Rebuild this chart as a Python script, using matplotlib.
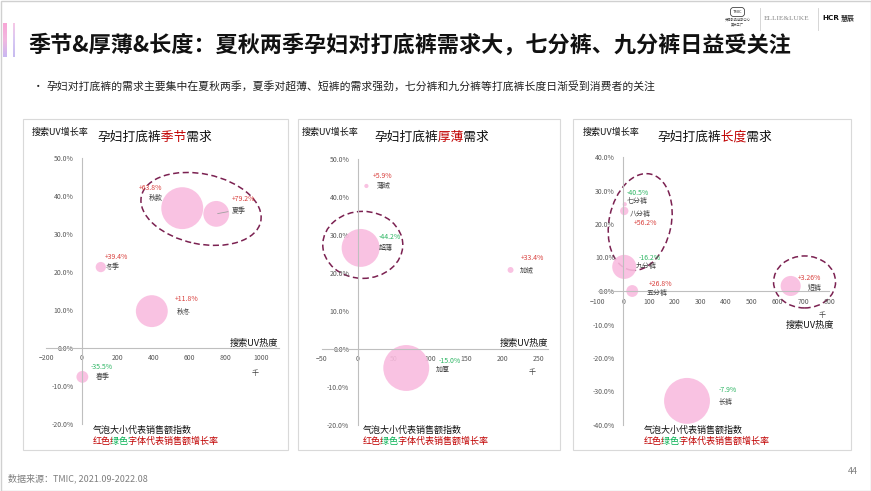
import numpy as np
import matplotlib
matplotlib.use('Agg')
import matplotlib.pyplot as plt
from matplotlib.patches import Ellipse, Rectangle, FancyBboxPatch
from matplotlib.transforms import ScaledTranslation, Bbox
from matplotlib.colors import LinearSegmentedColormap

plt.rcParams['font.family'] = ['Noto Sans CJK SC', 'DejaVu Sans']

# 季节: 搜索UV热度(千), 搜索UV增长率(%), 销售额指数(气泡), 销售额增长率(%)
season_names = ['秋款', '夏季', '冬季', '秋冬', '春季']
season_uv = [560, 750, 105, 390, 2]
season_uv_growth = [36.8, 35.3, 21.3, 9.7, -7.6]
season_sales = [100, 38, 6, 58, 8]
season_sales_growth = [63.8, 79.2, 39.4, 11.8, -35.5]

# 厚薄
thick_names = ['薄绒', '超薄', '加绒', '加厚']
thick_uv = [12, 4, 211, 67]
thick_uv_growth = [42.9, 26.6, 20.8, -5.0]
thick_sales = [1, 82, 2, 120]
thick_sales_growth = [5.9, -44.2, 33.4, -15.0]

# 长度
length_names = ['七分裤', '八分裤', '九分裤', '五分裤', '短裤', '长裤']
length_uv = [6, 4, 4, 35, 651, 248]
length_uv_growth = [25.9, 23.9, 7.2, 0.0, 1.5, -32.8]
length_sales = [1, 4, 33, 8, 23, 120]
length_sales_growth = [-40.5, 56.2, -16.2, 26.8, 3.26, -7.9]

W, H = 871, 491
RED = '#D9413E'
GREEN = '#2DB563'
DARKRED = '#C00000'
PINK = '#F9BCDF'
RING = '#7B2151'

fig = plt.figure(figsize=(W / 100, H / 100), dpi=100)
bg = fig.add_axes([0, 0, 1, 1])
bg.set_zorder(0)
bg.set_xlim(0, W)
bg.set_ylim(H, 0)
bg.axis('off')
renderer = fig.canvas.get_renderer()


def rect_px(x0, y0, x1, y1):
    return [x0 / W, 1 - y1 / H, (x1 - x0) / W, (y1 - y0) / H]


def fmt_growth(v):
    return f'{v:+.1f}%' if round(v, 1) == v else f'{v:+.2f}%'


def ring(ax, cx, cy, w, h, angle=0):
    tr = fig.dpi_scale_trans + ScaledTranslation(cx, cy, ax.transData)
    e = Ellipse((0, 0), w / 100, h / 100, angle=angle, transform=tr, fill=False,
                ec=RING, lw=1.1, ls=(0, (4, 2.3)))
    e.set_clip_on(False)
    ax.add_patch(e)


def draw_panel(rect, names, uv, uvg, sales, sg, g_off, n_off, xlim, ylim, xticks, yticks,
               xpad, leader=None):
    ax = fig.add_axes(rect)
    ax.set_facecolor('none')
    ax.scatter(uv, uvg, s=np.array(sales) * 9.1, color=PINK, alpha=0.9, lw=0, zorder=2, clip_on=False)
    for i, n in enumerate(names):
        c = RED if sg[i] > 0 else GREEN
        ax.annotate(fmt_growth(sg[i]), (uv[i], uvg[i]), xytext=(g_off[i][0], -g_off[i][1]),
                    textcoords='offset pixels', ha='left', va='center', fontsize=5, color=c, zorder=5)
        kw = {}
        if leader is not None and leader[i]:
            kw['arrowprops'] = dict(arrowstyle='-', color='#A0A0A0', lw=0.6, shrinkA=1, shrinkB=1,
                                    relpos=(0, 0.5))
        ax.annotate(n, (uv[i], uvg[i]), xytext=(n_off[i][0], -n_off[i][1]),
                    textcoords='offset pixels', ha='left', va='center', fontsize=5, color='#404040',
                    zorder=5, **kw)
    ax.set_xlim(*xlim)
    ax.set_ylim(*ylim)
    ax.set_xticks(xticks)
    ax.set_yticks(yticks)
    ax.set_yticklabels([f'{v:.1f}%' for v in yticks])
    for sp in ['top', 'right']:
        ax.spines[sp].set_visible(False)
    for sp in ['left', 'bottom']:
        ax.spines[sp].set_position(('data', 0))
        ax.spines[sp].set_color('#BFBFBF')
        ax.spines[sp].set_linewidth(0.8)
    ax.tick_params(length=0, labelsize=5, labelcolor='#595959')
    ax.tick_params(axis='x', pad=xpad)
    ax.tick_params(axis='y', pad=6)
    return ax


def seg_text(x, y, parts, size):
    # draw the whole string once per colour, each copy clipped to its own piece
    full = ''.join(s for s, _ in parts)
    bounds = [x - 10]
    prefix = ''
    for s, _ in parts[:-1]:
        prefix += s
        tmp = bg.text(x, y, prefix, fontsize=size, va='center', ha='left')
        bb = tmp.get_window_extent(renderer)
        tmp.remove()
        bounds.append(bg.transData.inverted().transform((bb.x1, bb.y0))[0] + 1)
    bounds.append(x + 1000)
    for (s, c), x0, x1 in zip(parts, bounds[:-1], bounds[1:]):
        t = bg.text(x, y, full, color=c, fontsize=size, va='center', ha='left')
        p0 = bg.transData.transform((x0, y - 20))
        p1 = bg.transData.transform((x1, y + 20))
        t.set_clip_box(Bbox.from_extents(min(p0[0], p1[0]), min(p0[1], p1[1]),
                                         max(p0[0], p1[0]), max(p0[1], p1[1])))
        t.set_clip_on(True)


# panel frames
for x0, x1 in [(23, 288), (298, 560), (573, 851)]:
    bg.add_patch(Rectangle((x0, 119), x1 - x0, 331, fill=False, ec='#D9D9D9', lw=0.8))
bg.add_patch(Rectangle((0.5, 0.5), W - 1, H - 1, fill=False, ec='#D0D0D0', lw=1))

ax1 = draw_panel(rect_px(46.2, 158, 278.9, 424), season_names, season_uv, season_uv_growth,
                 season_sales, season_sales_growth,
                 [(-43, -20), (16, -15), (4, -10), (23, -12), (8, -10)],
                 [(-33, -10), (16, -3), (5, 0), (25, 1), (13, 0)],
                 (-200, 1100), (-20, 50), range(-200, 1001, 200), range(-20, 51, 10), 4,
                 leader=[False, True, False, False, False])
ring(ax1, 665, 36.6, 122, 70, -12)

ax2 = draw_panel(rect_px(321.5, 159, 547.5, 425), thick_names, thick_uv, thick_uv_growth,
                 thick_sales, thick_sales_growth,
                 [(6, -10), (18, -11), (10, -12), (32, -7)],
                 [(10, 0), (18, 0), (9, 0), (30, 2)],
                 (-50, 262), (-20, 50), range(-50, 251, 50), range(-20, 51, 10), 4)
ring(ax2, 7, 27.4, 80, 67)

ax3 = draw_panel(rect_px(597.5, 157, 829, 425), length_names, length_uv, length_uv_growth,
                 length_sales, length_sales_growth,
                 [(2, -11), (10, 12), (14, -9), (17, -7), (7, -8), (32, -11)],
                 [(2, -3), (5, 3), (11, -1), (14, 2), (17, 2), (32, 1)],
                 (-100, 800), (-40, 40), range(-100, 801, 100), range(-40, 41, 10), 5)
ring(ax3, 66, 20.6, 62, 98, -12)
ring(ax3, 705, 2.7, 62, 52)

# panel texts
for x in [32, 302, 583]:
    bg.text(x, 132, '搜索UV增长率', fontsize=6.5, va='center', color='#111111')
seg_text(97, 137, [('孕妇打底裤', '#111111'), ('季节', DARKRED), ('需求', '#111111')], 9.2)
seg_text(374, 137, [('孕妇打底裤', '#111111'), ('厚薄', DARKRED), ('需求', '#111111')], 9.2)
seg_text(657, 137, [('孕妇打底裤', '#111111'), ('长度', DARKRED), ('需求', '#111111')], 9.2)

for x, y, kx, ky in [(278, 343, 255, 373), (548, 343, 532, 372), (834, 325, 822, 315)]:
    bg.text(x, y, '搜索UV热度', fontsize=6.6, va='center', ha='right', color='#111111')
    bg.text(kx, ky, '千', fontsize=5, va='center', ha='center', color='#404040')

for x in [93, 363, 644]:
    bg.text(x, 430, '气泡大小代表销售额指数', fontsize=6.5, va='center', color='#111111')
    seg_text(x, 441, [('红色', DARKRED), ('绿色', '#00B050'), ('字体代表销售额增长率', DARKRED)], 6.5)

# header
bg.text(28, 45, '季节&厚薄&长度：夏秋两季孕妇对打底裤需求大，七分裤、九分裤日益受关注',
        fontsize=15.9, fontweight='bold', va='center', color='#111111')
bg.text(33, 87, '•', fontsize=7.5, va='center', color='#222222')
bg.text(46, 87, '孕妇对打底裤的需求主要集中在夏秋两季，夏季对超薄、短裤的需求强劲，七分裤和九分裤等打底裤长度日渐受到消费者的关注',
        fontsize=7.8, va='center', color='#222222')

# accent bars
grad = np.linspace(0, 1, 50).reshape(-1, 1)
cm1 = LinearSegmentedColormap.from_list('a', ['#F8A6D6', '#F2B8E0', '#C9B7F2'])
cm2 = LinearSegmentedColormap.from_list('b', ['#F7C8E6', '#D8C8F4', '#C7BBF0'])
bg.imshow(grad, extent=(2.5, 6, 57, 23), aspect='auto', cmap=cm1)
bg.imshow(grad, extent=(13, 15, 57, 23), aspect='auto', cmap=cm2)

# logos
bg.add_patch(FancyBboxPatch((731, 8), 13, 8, boxstyle='round,pad=0.5,rounding_size=3',
                            fill=False, ec='#444444', lw=0.6))
bg.text(737.5, 12, 'TMIC', fontsize=3, ha='center', va='center', color='#333333')
bg.text(737.5, 20, '天猫新品创新中心', fontsize=2.3, ha='center', va='center', color='#444444')
bg.text(737.5, 24, '美妆工厂', fontsize=2.3, ha='center', va='center', color='#444444')
bg.plot([760, 760], [8, 30], color='#D0D0D0', lw=0.6)
bg.plot([818, 818], [8, 30], color='#D0D0D0', lw=0.6)
bg.text(764, 18, 'ELLIE&LUKE', fontsize=5.3, family='Liberation Serif', va='center', color='#8A8A8A')
bg.text(822, 18, 'HCR', fontsize=5.2, fontweight='bold', family='DejaVu Sans', va='center', color='#111111')
bg.text(841, 18, '慧辰', fontsize=5, fontweight='bold', va='center', color='#333333')

# footer
bg.text(8, 478, '数据来源：TMIC, 2021.09-2022.08', fontsize=6.5, va='center', color='#7F7F7F')
bg.text(858, 472, '44', fontsize=6.5, va='center', ha='right', color='#7F7F7F')

bg.set_xlim(0, W)
bg.set_ylim(H, 0)

fig.savefig('out.png', dpi=100)
